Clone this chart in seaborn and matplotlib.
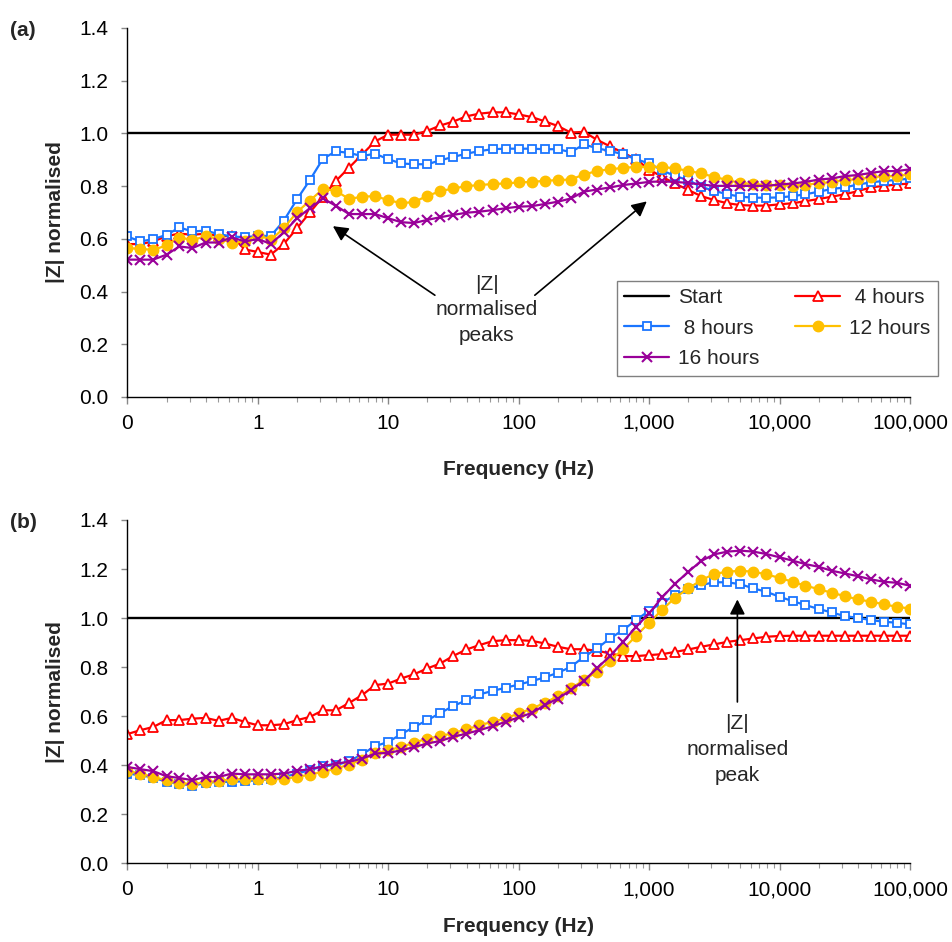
import matplotlib
matplotlib.use('Agg')
import matplotlib.pyplot as plt
from matplotlib.ticker import FixedLocator, FixedFormatter, LogLocator, NullFormatter
import seaborn as sns

sns.set_theme(style="white")
plt.rcParams['font.family'] = ['Liberation Sans', 'DejaVu Sans']

# Frequencies (Hz), 10 points per decade
freq = [0.1, 0.126, 0.158, 0.2, 0.251, 0.316, 0.398, 0.501, 0.631, 0.794,
        1, 1.26, 1.58, 2, 2.51, 3.16, 3.98, 5.01, 6.31, 7.94,
        10, 12.6, 15.8, 20, 25.1, 31.6, 39.8, 50.1, 63.1, 79.4,
        100, 126, 158, 200, 251, 316, 398, 501, 631, 794,
        1000, 1260, 1580, 2000, 2510, 3160, 3980, 5010, 6310, 7940,
        10000, 12600, 15800, 20000, 25100, 31600, 39800, 50100, 63100, 79400, 100000]

start = [1.0] * len(freq)

# Panel (a)
h4_a = [0.58, 0.58, 0.59, 0.61, 0.62, 0.615, 0.62, 0.61, 0.61, 0.56,
        0.55, 0.54, 0.58, 0.64, 0.70, 0.76, 0.82, 0.87, 0.92, 0.97,
        0.995, 0.995, 0.995, 1.01, 1.03, 1.045, 1.065, 1.075, 1.08, 1.08,
        1.072, 1.062, 1.046, 1.028, 1.003, 1.006, 0.976, 0.951, 0.927, 0.902,
        0.863, 0.835, 0.81, 0.785, 0.762, 0.747, 0.735, 0.728, 0.726, 0.726,
        0.731, 0.735, 0.743, 0.751, 0.76, 0.769, 0.781, 0.795, 0.801, 0.806, 0.81]
h8_a = [0.609, 0.590, 0.599, 0.615, 0.643, 0.628, 0.631, 0.618, 0.609, 0.606,
        0.611, 0.611, 0.668, 0.750, 0.823, 0.904, 0.932, 0.926, 0.914, 0.923,
        0.902, 0.886, 0.883, 0.883, 0.898, 0.911, 0.923, 0.933, 0.940, 0.942,
        0.942, 0.942, 0.940, 0.940, 0.929, 0.958, 0.944, 0.933, 0.921, 0.902,
        0.886, 0.86, 0.838, 0.823, 0.797, 0.782, 0.769, 0.760, 0.756, 0.756,
        0.757, 0.762, 0.769, 0.779, 0.789, 0.795, 0.806, 0.814, 0.820, 0.823, 0.829]
h12_a = [0.565, 0.562, 0.558, 0.575, 0.605, 0.596, 0.609, 0.600, 0.586, 0.590,
         0.615, 0.596, 0.640, 0.701, 0.745, 0.789, 0.782, 0.751, 0.760, 0.762,
         0.747, 0.735, 0.74, 0.763, 0.781, 0.791, 0.800, 0.804, 0.808, 0.810,
         0.814, 0.816, 0.820, 0.823, 0.825, 0.844, 0.857, 0.864, 0.869, 0.873,
         0.873, 0.873, 0.867, 0.858, 0.848, 0.835, 0.823, 0.812, 0.808, 0.804,
         0.804, 0.801, 0.806, 0.810, 0.816, 0.823, 0.826, 0.833, 0.838, 0.838, 0.845]
h16_a = [0.521, 0.521, 0.521, 0.540, 0.571, 0.565, 0.586, 0.586, 0.606, 0.590,
         0.599, 0.581, 0.624, 0.678, 0.716, 0.753, 0.725, 0.694, 0.694, 0.694,
         0.678, 0.663, 0.660, 0.672, 0.682, 0.691, 0.699, 0.703, 0.709, 0.716,
         0.722, 0.724, 0.732, 0.741, 0.753, 0.779, 0.787, 0.795, 0.804, 0.810,
         0.816, 0.818, 0.816, 0.812, 0.806, 0.801, 0.801, 0.801, 0.801, 0.801,
         0.806, 0.810, 0.816, 0.825, 0.829, 0.838, 0.842, 0.850, 0.857, 0.857, 0.864]

# Panel (b)
h4_b = [0.527, 0.543, 0.556, 0.584, 0.584, 0.590, 0.593, 0.581, 0.593, 0.577,
        0.563, 0.563, 0.567, 0.584, 0.597, 0.624, 0.624, 0.654, 0.686, 0.727,
        0.733, 0.754, 0.771, 0.795, 0.815, 0.846, 0.872, 0.890, 0.906, 0.910,
        0.910, 0.907, 0.897, 0.883, 0.873, 0.873, 0.867, 0.856, 0.845, 0.845,
        0.849, 0.853, 0.862, 0.872, 0.883, 0.893, 0.903, 0.910, 0.917, 0.924,
        0.927, 0.928, 0.928, 0.928, 0.928, 0.928, 0.928, 0.928, 0.928, 0.928, 0.928]
h8_b = [0.366, 0.359, 0.350, 0.332, 0.325, 0.316, 0.328, 0.332, 0.332, 0.335,
        0.339, 0.343, 0.352, 0.366, 0.380, 0.396, 0.400, 0.416, 0.445, 0.478,
        0.495, 0.527, 0.556, 0.584, 0.613, 0.642, 0.665, 0.689, 0.703, 0.716,
        0.729, 0.743, 0.758, 0.777, 0.801, 0.842, 0.876, 0.917, 0.951, 0.992,
        1.030, 1.062, 1.094, 1.118, 1.135, 1.146, 1.146, 1.138, 1.121, 1.107,
        1.087, 1.069, 1.053, 1.037, 1.023, 1.008, 1.001, 0.992, 0.985, 0.981, 0.974]
h12_b = [0.377, 0.366, 0.352, 0.339, 0.329, 0.322, 0.332, 0.335, 0.343, 0.343,
         0.343, 0.343, 0.345, 0.352, 0.362, 0.373, 0.386, 0.403, 0.423, 0.448,
         0.461, 0.475, 0.492, 0.509, 0.518, 0.532, 0.546, 0.563, 0.577, 0.591,
         0.611, 0.631, 0.654, 0.682, 0.713, 0.747, 0.781, 0.826, 0.873, 0.927,
         0.981, 1.034, 1.083, 1.121, 1.155, 1.180, 1.189, 1.193, 1.189, 1.178,
         1.164, 1.148, 1.132, 1.118, 1.103, 1.090, 1.076, 1.067, 1.056, 1.046, 1.039]
h16_b = [0.393, 0.384, 0.376, 0.355, 0.348, 0.339, 0.352, 0.352, 0.366, 0.363,
         0.363, 0.363, 0.366, 0.377, 0.384, 0.396, 0.407, 0.414, 0.427, 0.448,
         0.450, 0.461, 0.474, 0.489, 0.499, 0.516, 0.529, 0.543, 0.559, 0.577,
         0.595, 0.613, 0.645, 0.672, 0.706, 0.744, 0.795, 0.845, 0.903, 0.964,
         1.019, 1.085, 1.140, 1.189, 1.233, 1.260, 1.271, 1.275, 1.271, 1.261,
         1.248, 1.234, 1.220, 1.209, 1.193, 1.182, 1.171, 1.158, 1.148, 1.144, 1.132]

tick_vals = [0.1, 1, 10, 100, 1000, 10000, 100000]
tick_labels = ['0', '1', '10', '100', '1,000', '10,000', '100,000']
series_names = ['Start', ' 4 hours', ' 8 hours', '12 hours', '16 hours']

styles = {
    'Start': dict(color='black', linewidth=1.7),
    ' 4 hours': dict(color='#FF0000', linewidth=1.6, marker='^', markersize=7,
                     markerfacecolor='white', markeredgecolor='#FF0000', markeredgewidth=1.3),
    ' 8 hours': dict(color='#1A75FF', linewidth=1.6, marker='s', markersize=6,
                     markerfacecolor='white', markeredgecolor='#1A75FF', markeredgewidth=1.3),
    '12 hours': dict(color='#FFC000', linewidth=1.6, marker='o', markersize=7.5,
                     markerfacecolor='#FFC000', markeredgecolor='#FFC000', markeredgewidth=1),
    '16 hours': dict(color='#990099', linewidth=1.6, marker='x', markersize=7.5,
                     markeredgecolor='#990099', markeredgewidth=1.5),
}

FS = 15

fig = plt.figure(figsize=(9.52, 9.42), dpi=100)
ax_a = fig.add_axes([0.1337, 0.5786, 0.8222, 0.3917])
ax_b = fig.add_axes([0.1337, 0.0835, 0.8222, 0.3645])


def draw_panel(ax, values, with_label, xlabelpad):
    for name, vals in zip(series_names, values):
        kw = dict(styles[name])
        if with_label:
            kw['label'] = name
        sns.lineplot(x=freq, y=vals, ax=ax, **kw)
    ax.set_xscale('log')
    ax.set_xlim(0.1, 100000)
    ax.set_ylim(0, 1.4)
    ax.xaxis.set_major_locator(FixedLocator(tick_vals))
    ax.xaxis.set_major_formatter(FixedFormatter(tick_labels))
    ax.xaxis.set_minor_locator(LogLocator(base=10, subs=[2, 3, 4, 5, 6, 7, 8, 9], numticks=20))
    ax.xaxis.set_minor_formatter(NullFormatter())
    ax.set_yticks([0, 0.2, 0.4, 0.6, 0.8, 1.0, 1.2, 1.4])
    ax.set_yticklabels([f'{v:.1f}' for v in [0, 0.2, 0.4, 0.6, 0.8, 1.0, 1.2, 1.4]])
    for side in ['top', 'right']:
        ax.spines[side].set_visible(False)
    for side in ['left', 'bottom']:
        ax.spines[side].set_color('black')
        ax.spines[side].set_linewidth(1.0)
    ax.tick_params(axis='x', which='major', direction='out', length=5, width=1,
                   color='#888888', pad=7, labelsize=FS, labelcolor='black', bottom=True)
    ax.tick_params(axis='x', which='minor', direction='out', length=3.5, width=0.8,
                   color='#999999', bottom=True)
    ax.tick_params(axis='y', which='major', direction='out', length=4.5, width=1,
                   color='#888888', pad=9, labelsize=FS, labelcolor='black', left=True)
    ax.set_xlabel('Frequency (Hz)', fontsize=FS, fontweight='bold', labelpad=xlabelpad)
    ax.set_ylabel('|Z| normalised', fontsize=FS, fontweight='bold', labelpad=10)
    ax.grid(False)


arrow_kw = dict(arrowstyle='-|>,head_length=0.45,head_width=0.23', color='black',
                lw=1.2, mutation_scale=20, shrinkA=0, shrinkB=0)

draw_panel(ax_a, [start, h4_a, h8_a, h12_a, h16_a], True, 20)
handles, labels = ax_a.get_legend_handles_labels()
lookup = dict(zip(labels, handles))
order = ['Start', ' 8 hours', '16 hours', ' 4 hours', '12 hours']
ax_a.legend([lookup[k] for k in order], order, ncol=2, loc='upper left',
            bbox_to_anchor=(617 / 952, 1 - 281 / 942), bbox_transform=fig.transFigure,
            fontsize=FS, frameon=True, fancybox=False, framealpha=1, edgecolor='#808080',
            numpoints=1, handlelength=2.15, handletextpad=0.45, columnspacing=1.7,
            labelspacing=0.55, borderpad=0.35, borderaxespad=0)
ax_a.get_legend().get_frame().set_linewidth(1.0)

ax_a.text(57, 0.33, '|Z|\nnormalised\npeaks', ha='center', va='center', fontsize=FS,
          linespacing=1.45)
ax_a.annotate('', xy=(3.77, 0.648), xytext=(22.8, 0.386), arrowprops=arrow_kw)
ax_a.annotate('', xy=(960, 0.742), xytext=(133, 0.386), arrowprops=arrow_kw)

draw_panel(ax_b, [start, h4_b, h8_b, h12_b, h16_b], False, 13)
ax_b.text(4750, 0.465, '|Z|\nnormalised\npeak', ha='center', va='center', fontsize=FS,
          linespacing=1.45)
ax_b.annotate('', xy=(4750, 1.076), xytext=(4750, 0.658), arrowprops=arrow_kw)

fig.text(10 / 952, 1 - 30 / 942, '(a)', fontsize=FS, fontweight='bold', va='center', ha='left')
fig.text(10 / 952, 1 - 522 / 942, '(b)', fontsize=FS, fontweight='bold', va='center', ha='left')

fig.savefig('out.png', dpi=100)
